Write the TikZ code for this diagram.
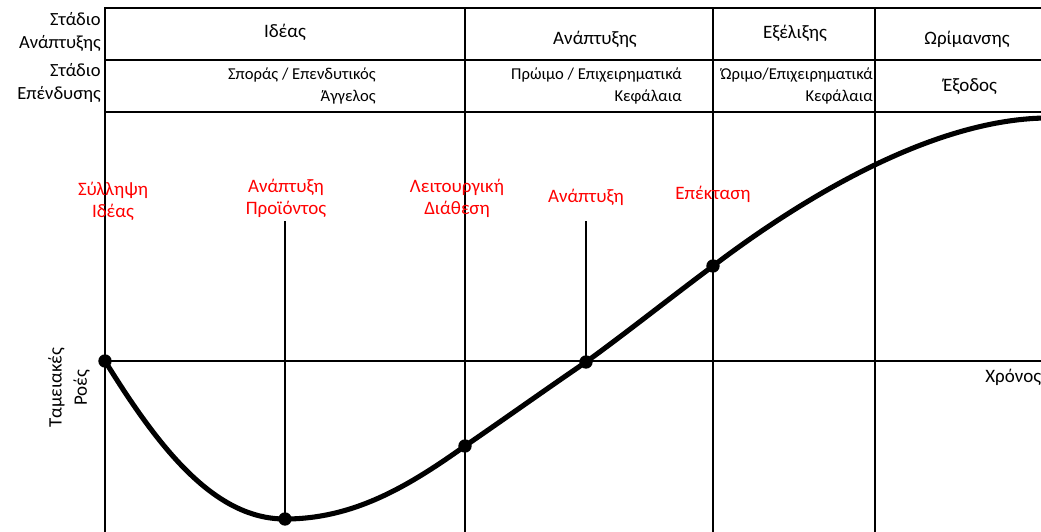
\documentclass[tikz,border=0pt]{standalone}
\usepackage{fontspec}
\setmainfont{Carlito}
\begin{document}
\begin{tikzpicture}[x=0.025cm, y=-0.025cm,
    grid/.style={line width=0.9pt},
    hdr/.style={inner sep=0pt, font=\fontsize{13.5}{16}\selectfont},
    side/.style={inner sep=0pt, align=right, anchor=east, font=\fontsize{13.2}{15.8}\selectfont},
    inv/.style={inner sep=0pt, align=right, anchor=east, font=\fontsize{11.8}{15}\selectfont},
    lbl/.style={inner sep=0pt, align=center, text=red, font=\fontsize{13.5}{15.6}\selectfont},
    dot/.style={circle, fill=black, inner sep=0pt, minimum size=9.5pt}]
        \useasboundingbox (0,0) rectangle (1041,532);

        % Table
        \draw[grid] (105,532) -- (105,8) -- (1041,8);
        \draw[grid] (105,60) -- (1041,60);
        \draw[grid] (105,112) -- (1041,112);
        \draw[grid] (465,8) -- (465,532);
        \draw[grid] (713,8) -- (713,532);
        \draw[grid] (875,8) -- (875,532);
        \draw[grid] (105,361) -- (1041,361);

        % Row titles
        \draw (101,32)  node[side] (devRow) {Στάδιο\\Ανάπτυξης};
        \draw (101,83)  node[side] (invRow) {Στάδιο\\Επένδυσης};

        % Development stages
        \draw (285,32)  node[hdr] (stIdea) {Ιδέας};
        \draw (595,39)  node[hdr] (stGrowth) {Ανάπτυξης};
        \draw (795,33)  node[hdr] (stEvol) {Εξέλιξης};
        \draw (967,39)  node[hdr] (stMature) {Ωρίμανσης};

        % Investment stages
        \draw (376,86)  node[inv] (invSeed) {Σποράς / Επενδυτικός\\Άγγελος};
        \draw (682,86)  node[inv] (invEarly) {Πρώιμο / Επιχειρηματικά\\Κεφάλαια};
        \draw (873,86)  node[inv] (invLate) {Ώριμο/Επιχειρηματικά\\Κεφάλαια};
        \draw (970,87)  node[hdr] (invExit) {Έξοδος};

        % Axis titles
        \draw (69,388)  node[hdr, align=center, rotate=90, font=\fontsize{13.5}{18}\selectfont] (cash) {Ταμειακές\\Ροές};
        \draw (985,377) node[hdr, anchor=west] (time) {Χρόνος};

        % Curve
        \draw (105,361) node[dot] (pIdea) {};
        \draw (285,519) node[dot] (pProd) {};
        \draw (465,446) node[dot] (pOper) {};
        \draw (586,362) node[dot] (pGrowth) {};
        \draw (713,266) node[dot] (pExp) {};
        \coordinate (cEnd) at (1045,118);
        \draw[line width=3.6pt, line cap=round] (pIdea.center)
            .. controls (160,450) and (215,519) .. (pProd.center)
            .. controls (355,519) and (410,485) .. (pOper.center)
            .. controls (510,415) and (545,390) .. (pGrowth.center)
            .. controls (630,330) and (670,298) .. (pExp.center)
            .. controls (800,200) and (930,120) .. (cEnd);

        % Milestones
        \draw (113,201) node[lbl] (lIdea) {Σύλληψη\\Ιδέας};
        \draw (286,198) node[lbl] (lProd) {Ανάπτυξη\\Προϊόντος};
        \draw (457,198) node[lbl] (lOper) {Λειτουργική\\Διάθεση};
        \draw (586,197) node[lbl] (lGrowth) {Ανάπτυξη};
        \draw (713,194) node[lbl] (lExp) {Επέκταση};
        \draw[grid] (pProd.center |- 0,221) -- (pProd.center);
        \draw[grid] (pGrowth.center |- 0,221) -- (pGrowth.center);
    \end{tikzpicture}
\end{document}
